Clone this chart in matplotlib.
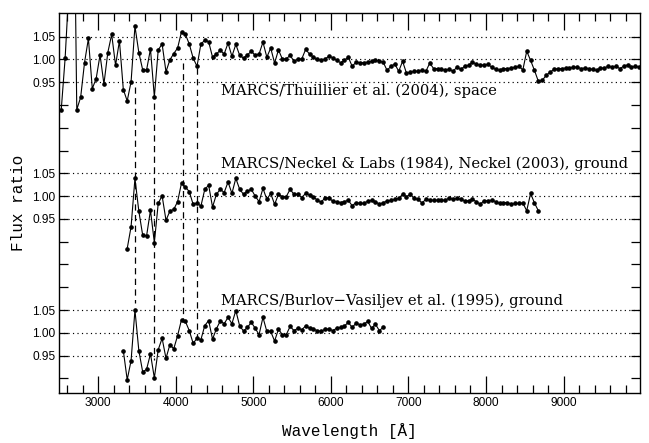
import matplotlib
matplotlib.use("Agg")
import matplotlib.pyplot as plt
import numpy as np

# ---------------- data ----------------
wl_space = [
    2525, 2575, 2625, 2675, 2725, 2775, 2825, 2875, 2925, 2975, 3025, 3075, 3125, 3175, 3225, 3275, 3325, 3375, 3425, 3475,
    3525, 3575, 3625, 3675, 3725, 3775, 3825, 3875, 3925, 3975, 4025, 4075, 4125, 4175, 4225, 4275, 4325, 4375, 4425, 4475,
    4525, 4575, 4625, 4675, 4725, 4775, 4825, 4875, 4925, 4975, 5025, 5075, 5125, 5175, 5225, 5275, 5325, 5375, 5425, 5475,
    5525, 5575, 5625, 5675, 5725, 5775, 5825, 5875, 5925, 5975, 6025, 6075, 6125, 6175, 6225, 6275, 6325, 6375, 6425, 6475,
    6525, 6575, 6625, 6675, 6725, 6775, 6825, 6875, 6925, 6975, 7025, 7075, 7125, 7175, 7225, 7275, 7325, 7375, 7425, 7475,
    7525, 7575, 7625, 7675, 7725, 7775, 7825, 7875, 7925, 7975, 8025, 8075, 8125, 8175, 8225, 8275, 8325, 8375, 8425, 8475,
    8525, 8575, 8625, 8675, 8725, 8775, 8825, 8875, 8925, 8975, 9025, 9075, 9125, 9175, 9225, 9275, 9325, 9375, 9425, 9475,
    9525, 9575, 9625, 9675, 9725, 9775, 9825, 9875, 9925, 9975]
ratio_space = [
    0.890, 1.003, 1.16, 1.60, 0.890, 0.917, 0.993, 1.046, 0.936, 0.958, 1.010, 0.946, 1.015, 1.055, 0.987, 1.041, 0.934, 0.909, 0.951, 1.073,
    1.015, 0.977, 0.977, 1.023, 0.918, 1.021, 1.034, 0.973, 0.999, 1.013, 1.025, 1.061, 1.055, 1.034, 1.003, 0.985, 1.034, 1.042, 1.039, 1.005,
    1.012, 1.020, 1.012, 1.036, 1.007, 1.033, 1.009, 1.003, 1.010, 1.018, 1.009, 1.012, 1.038, 1.005, 1.025, 0.992, 1.021, 1.001, 1.001, 1.009,
    0.996, 1.001, 1.001, 1.022, 1.012, 1.005, 1.001, 0.998, 1.001, 1.007, 1.004, 0.998, 0.993, 0.998, 1.005, 0.985, 0.994, 0.993, 0.993, 0.994,
    0.996, 0.999, 0.996, 0.994, 0.976, 0.985, 0.990, 0.974, 0.996, 0.970, 0.972, 0.974, 0.974, 0.976, 0.974, 0.992, 0.980, 0.980, 0.978, 0.977,
    0.978, 0.974, 0.983, 0.978, 0.985, 0.987, 0.994, 0.990, 0.987, 0.988, 0.989, 0.983, 0.978, 0.976, 0.980, 0.980, 0.981, 0.983, 0.985, 0.977,
    1.018, 0.998, 0.976, 0.952, 0.954, 0.965, 0.972, 0.978, 0.980, 0.980, 0.981, 0.981, 0.983, 0.983, 0.980, 0.981, 0.980, 0.978, 0.976, 0.981,
    0.981, 0.985, 0.983, 0.985, 0.980, 0.985, 0.988, 0.983, 0.985, 0.983]

wl_neckel = [
    3375, 3425, 3475, 3525, 3575, 3625, 3675, 3725, 3775, 3825, 3875, 3925, 3975, 4025, 4075, 4125, 4175, 4225, 4275, 4325,
    4375, 4425, 4475, 4525, 4575, 4625, 4675, 4725, 4775, 4825, 4875, 4925, 4975, 5025, 5075, 5125, 5175, 5225, 5275, 5325,
    5375, 5425, 5475, 5525, 5575, 5625, 5675, 5725, 5775, 5825, 5875, 5925, 5975, 6025, 6075, 6125, 6175, 6225, 6275, 6325,
    6375, 6425, 6475, 6525, 6575, 6625, 6675, 6725, 6775, 6825, 6875, 6925, 6975, 7025, 7075, 7125, 7175, 7225, 7275, 7325,
    7375, 7425, 7475, 7525, 7575, 7625, 7675, 7725, 7775, 7825, 7875, 7925, 7975, 8025, 8075, 8125, 8175, 8225, 8275, 8325,
    8375, 8425, 8475, 8525, 8575, 8625, 8675]
ratio_neckel = [
    0.885, 0.933, 1.039, 0.967, 0.914, 0.913, 0.969, 0.898, 0.984, 1.001, 0.947, 0.967, 0.971, 0.988, 1.029, 1.020, 1.010, 0.982, 0.985, 0.978,
    1.015, 1.024, 0.976, 1.004, 1.015, 1.008, 1.031, 1.006, 1.039, 1.015, 1.004, 1.011, 1.015, 1.000, 0.988, 1.017, 0.993, 1.006, 0.982, 1.004,
    0.999, 0.999, 1.015, 1.004, 1.004, 0.997, 1.006, 1.002, 0.999, 0.991, 0.987, 0.996, 0.996, 0.989, 0.988, 0.986, 0.988, 0.991, 0.979, 0.986,
    0.984, 0.984, 0.989, 0.991, 0.988, 0.982, 0.986, 0.989, 0.991, 0.993, 0.995, 1.004, 0.999, 1.004, 0.995, 0.993, 0.985, 0.993, 0.991, 0.991,
    0.991, 0.991, 0.991, 0.996, 0.993, 0.995, 0.993, 0.990, 0.990, 0.993, 0.988, 0.982, 0.990, 0.990, 0.991, 0.988, 0.984, 0.986, 0.986, 0.982,
    0.984, 0.984, 0.985, 0.968, 1.006, 0.985, 0.968]

wl_burlov = [
    3325, 3375, 3425, 3475, 3525, 3575, 3625, 3675, 3725, 3775, 3825, 3875, 3925, 3975, 4025, 4075, 4125, 4175, 4225, 4275,
    4325, 4375, 4425, 4475, 4525, 4575, 4625, 4675, 4725, 4775, 4825, 4875, 4925, 4975, 5025, 5075, 5125, 5175, 5225, 5275,
    5325, 5375, 5425, 5475, 5525, 5575, 5625, 5675, 5725, 5775, 5825, 5875, 5925, 5975, 6025, 6075, 6125, 6175, 6225, 6275,
    6325, 6375, 6425, 6475, 6525, 6575, 6625, 6675]
ratio_burlov = [
    0.961, 0.897, 0.939, 1.050, 0.961, 0.914, 0.920, 0.954, 0.901, 0.963, 0.988, 0.944, 0.974, 0.965, 0.994, 1.029, 1.025, 1.005, 0.977, 0.988,
    0.985, 1.016, 1.027, 0.986, 1.009, 1.026, 1.020, 1.034, 1.020, 1.049, 1.015, 1.004, 1.012, 1.023, 1.010, 0.996, 1.034, 1.003, 1.003, 0.982,
    1.008, 0.996, 0.996, 1.014, 1.005, 1.010, 1.007, 1.015, 1.010, 1.008, 1.005, 1.003, 1.008, 1.008, 1.005, 1.010, 1.012, 1.015, 1.023, 1.012,
    1.021, 1.018, 1.019, 1.025, 1.010, 1.019, 1.005, 1.012]

offset_space = 0.60
offset_neckel = 0.30
offset_burlov = 0.00

label_space = "MARCS/Thuillier et al. (2004), space"
label_neckel = "MARCS/Neckel & Labs (1984), Neckel (2003), ground"
label_burlov = "MARCS/Burlov\u2212Vasiljev et al. (1995), ground"

dashed_wl = [3475, 3725, 4100, 4275]
dashed_top = [1.540, 1.505, 1.593, 1.582]
dashed_bottom = [1.066, 0.941, 1.024, 0.991]

ytick_values = [0.90, 0.95, 1.00, 1.05, 1.10, 1.15, 1.20, 1.25, 1.30, 1.35,
                1.40, 1.45, 1.50, 1.55, 1.60, 1.65]
ytick_labels = ["", "0.95", "1.00", "1.05", "", "", "", "0.95", "1.00", "1.05",
                "", "", "", "0.95", "1.00", "1.05"]
xtick_values = [3000, 4000, 5000, 6000, 7000, 8000, 9000]

# ---------------- figure ----------------
fig = plt.figure(figsize=(6.49, 4.43), dpi=100)
ax = fig.add_axes([0.0914, 0.1129, 0.8947, 0.8578])

xmin, xmax = 2500, 9985
ymin, ymax = 0.868, 1.702

# reference dotted lines for each panel
for off in (offset_burlov, offset_neckel, offset_space):
    for lev in (0.95, 1.00, 1.05):
        ax.axhline(lev + off, color="black", lw=0.85, ls=(0, (1.0, 2.8)), zorder=1)

# dashed vertical lines (drawn top -> bottom so the pattern starts at the top)
for w, lo, hi in zip(dashed_wl, dashed_bottom, dashed_top):
    ax.plot([w, w], [hi, lo], color="black", lw=0.9, ls=(0, (5, 3.5)), zorder=1)

for wl, r, off in ((wl_space, ratio_space, offset_space),
                   (wl_neckel, ratio_neckel, offset_neckel),
                   (wl_burlov, ratio_burlov, offset_burlov)):
    ax.plot(wl, np.array(r) + off, color="black", lw=0.8, marker="o",
            ms=2.3, mfc="black", mec="black", zorder=3)

serif = ["DejaVu Serif"]
text_x = 4590
ax.text(text_x, 0.952 + offset_space - 0.02, label_space, family=serif, fontsize=10.6,
        ha="left", va="center")
ax.text(text_x, 1.070 + offset_neckel, label_neckel, family=serif, fontsize=10.6,
        ha="left", va="center")
ax.text(text_x, 1.070 + offset_burlov, label_burlov, family=serif, fontsize=10.6,
        ha="left", va="center")

ax.set_xlim(xmin, xmax)
ax.set_ylim(ymin, ymax)

ax.set_xticks(xtick_values)
ax.set_xticks(np.arange(2600, 10000, 200), minor=True)
ax.set_yticks(ytick_values)
ax.set_yticklabels(ytick_labels)

ax.tick_params(axis="x", which="major", direction="in", length=12, width=0.9,
               top=True, bottom=True, labelsize=8.6, pad=3)
ax.tick_params(axis="x", which="minor", direction="in", length=5.5, width=0.9,
               top=True, bottom=True)
ax.tick_params(axis="y", which="major", direction="in", length=6.5, width=0.9,
               left=True, right=True, labelsize=8.6, pad=3)
for lab in ax.get_xticklabels() + ax.get_yticklabels():
    lab.set_family(["Liberation Sans"])

for s in ax.spines.values():
    s.set_linewidth(1.0)

mono = ["Liberation Mono"]
ax.set_xlabel("Wavelength [\u00c5]", family=mono, fontsize=11.5, labelpad=10)
ax.set_ylabel("Flux ratio", family=mono, fontsize=11.5, labelpad=4)

fig.savefig("out.png", dpi=100)
